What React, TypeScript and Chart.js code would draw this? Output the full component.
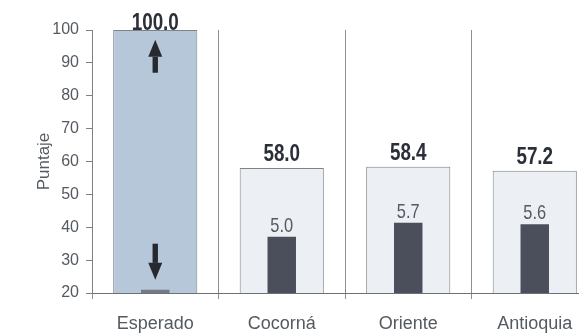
import React, { useEffect, useRef } from "react";
import Chart from "chart.js/auto";

const categories = ["Esperado", "Cocorná", "Oriente", "Antioquia"];
const outerValues = [100.0, 58.0, 58.4, 57.2];
const outerLabels = ["100.0", "58.0", "58.4", "57.2"];
const innerValues = [21.0, 37.1, 41.4, 40.9];
const innerLabels = ["", "5.0", "5.7", "5.6"];
const yTicks = [20, 30, 40, 50, 60, 70, 80, 90, 100];
const arrowUp = [87, 97];
const arrowDown = [35, 24];

const outerFill = ["#b6c7d9", "#eceff3", "#eceff3", "#eceff3"];
const innerFill = ["#747a85", "#4a4f5b", "#4a4f5b", "#4a4f5b"];

const labelPlugin = {
  id: "labelPlugin",
  afterDatasetsDraw(chart: any) {
    const ctx = chart.ctx;
    const area = chart.chartArea;
    const yScale = chart.scales.y;
    const outerMeta = chart.getDatasetMeta(1);
    const innerMeta = chart.getDatasetMeta(0);
    ctx.save();
    ctx.textAlign = "center";
    ctx.textBaseline = "alphabetic";
    outerMeta.data.forEach((bar: any, i: number) => {
      const y = Math.max(bar.y - 7, area.top);
      ctx.save();
      ctx.translate(bar.x, y);
      ctx.scale(0.82, 1);
      ctx.font = "bold 23px Arial, 'Liberation Sans', sans-serif";
      ctx.fillStyle = "#2b2f38";
      ctx.fillText(outerLabels[i], 0, 0);
      ctx.restore();
    });
    innerMeta.data.forEach((bar: any, i: number) => {
      if (!innerLabels[i]) return;
      ctx.save();
      ctx.translate(bar.x, bar.y - 5);
      ctx.scale(0.78, 1);
      ctx.font = "21px Arial, 'Liberation Sans', sans-serif";
      ctx.fillStyle = "#555a62";
      ctx.fillText(innerLabels[i], 0, 0);
      ctx.restore();
    });
    // arrows in the "Esperado" bar
    const x0 = outerMeta.data[0].x;
    const drawArrow = (from: number, to: number) => {
      const yFrom = yScale.getPixelForValue(from);
      const yTo = yScale.getPixelForValue(to);
      const dir = yTo < yFrom ? -1 : 1;
      const headLen = 17;
      const yHeadBase = yTo - dir * headLen;
      ctx.fillStyle = "#262a30";
      ctx.fillRect(x0 - 2.7, Math.min(yFrom, yHeadBase), 5.4, Math.abs(yHeadBase - yFrom));
      ctx.beginPath();
      ctx.moveTo(x0 - 7, yHeadBase);
      ctx.lineTo(x0 + 7, yHeadBase);
      ctx.lineTo(x0, yTo);
      ctx.closePath();
      ctx.fill();
    };
    drawArrow(arrowUp[0], arrowUp[1]);
    drawArrow(arrowDown[0], arrowDown[1]);
    ctx.restore();
  },
};

export default function App() {
  const ref = useRef<HTMLCanvasElement | null>(null);
  useEffect(() => {
    if (!ref.current) return;
    const chart = new Chart(ref.current, {
      type: "bar",
      data: {
        labels: categories,
        datasets: [
          {
            data: innerValues,
            backgroundColor: innerFill,
            borderWidth: 0,
            grouped: false,
            categoryPercentage: 1,
            barPercentage: 0.225,
            order: 0,
          } as any,
          {
            data: outerValues,
            backgroundColor: outerFill,
            borderColor: "#7f8388",
            borderWidth: 1,
            borderSkipped: false,
            grouped: false,
            categoryPercentage: 1,
            barPercentage: 0.665,
            order: 1,
          } as any,
        ],
      },
      options: {
        responsive: false,
        animation: false,
        layout: { padding: { left: 0, right: 2, top: 30, bottom: 0 } },
        plugins: { legend: { display: false }, tooltip: { enabled: false } },
        scales: {
          x: {
            afterFit(scale: any) {
              scale.height = 42;
            },
            grid: {
              offset: true,
              drawOnChartArea: true,
              drawTicks: true,
              tickLength: 6,
              color: "#8d8f93",
              lineWidth: 1,
            },
            border: { display: true, color: "#6d7075", width: 1 },
            ticks: {
              color: "#555a60",
              font: { family: "Arial, 'Liberation Sans', sans-serif", size: 18 },
              padding: 14,
              maxRotation: 0,
            },
          },
          y: {
            min: 20,
            max: 100,
            afterFit(scale: any) {
              scale.width = 92;
            },
            afterBuildTicks(scale: any) {
              scale.ticks = yTicks.map((v) => ({ value: v }));
            },
            grid: {
              drawOnChartArea: false,
              drawTicks: true,
              tickLength: 6,
              color: "#7d8085",
            },
            border: { display: true, color: "#7d8085", width: 1 },
            ticks: {
              color: "#555a60",
              font: { family: "Arial, 'Liberation Sans', sans-serif", size: 16 },
              padding: 7,
            },
            title: {
              display: true,
              text: "Puntaje",
              color: "#555a60",
              font: { family: "Arial, 'Liberation Sans', sans-serif", size: 17 },
              padding: { top: 34, bottom: 0 },
            },
          },
        },
      },
      plugins: [labelPlugin],
    } as any);
    return () => chart.destroy();
  }, []);
  return (
    <div
      style={{
        position: "fixed",
        left: 0,
        top: 0,
        width: 579,
        height: 335,
        overflow: "hidden",
        background: "#ffffff",
      }}
    >
      <canvas ref={ref} width={600} height={335} style={{ width: 600, height: 335, display: "block" }} />
    </div>
  );
}
